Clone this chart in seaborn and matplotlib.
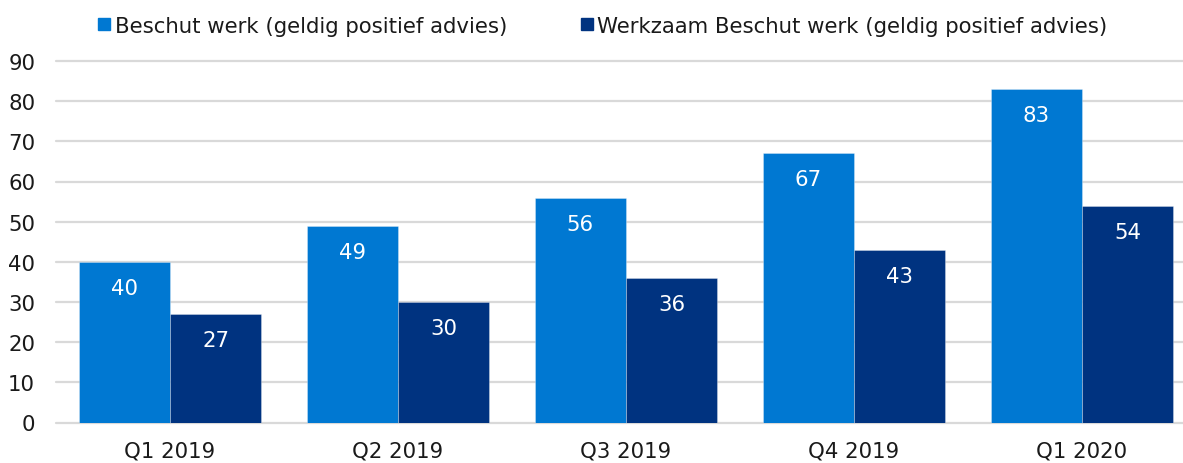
import matplotlib
matplotlib.use("Agg")
import matplotlib.pyplot as plt
import seaborn as sns
import pandas as pd
from matplotlib.lines import Line2D

quarters = ["Q1 2019", "Q2 2019", "Q3 2019", "Q4 2019", "Q1 2020"]
series_names = ["Beschut werk (geldig positief advies)",
                "Werkzaam Beschut werk (geldig positief advies)"]
beschut = [40, 49, 56, 67, 83]
werkzaam = [27, 30, 36, 43, 54]
y_ticks = [0, 10, 20, 30, 40, 50, 60, 70, 80, 90]

colors = ["#0078D2", "#003380"]
text_color = "#1a1a1a"
fs = 15.3

df = pd.DataFrame({
    "kwartaal": quarters * 2,
    "reeks": [series_names[0]] * len(quarters) + [series_names[1]] * len(quarters),
    "aantal": beschut + werkzaam,
})

sns.set_theme(style="white")
plt.rcParams["font.family"] = ["DejaVu Sans"]

fig = plt.figure(figsize=(11.83, 4.64), dpi=100)
W, H = 1183, 464
left_px, right_px = 56, 1196
ax = fig.add_axes([left_px / W, (H - 423.5) / H, (right_px - left_px) / W, (423.5 - 62) / H])

sns.barplot(data=df, x="kwartaal", y="aantal", hue="reeks", hue_order=series_names,
            palette=colors, width=0.8, gap=0, saturation=1, ax=ax,
            edgecolor=(1, 1, 1, 0.35), linewidth=0.6, legend=False, errorbar=None)

for cont in ax.containers:
    ax.bar_label(cont, labels=[f"{v:.0f}" for v in cont.datavalues],
                 padding=-26, color="white", fontsize=fs)

ax.set_xlim(-0.5, 4.5)
ax.set_ylim(0, 90)
ax.set_yticks(y_ticks)
ax.yaxis.grid(True, color="#D9D9D9", linewidth=1.6)
for gl in ax.get_ygridlines():
    gl.set_clip_on(False)
ax.set_axisbelow(True)
for s in ax.spines.values():
    s.set_visible(False)
ax.set_xlabel("")
ax.set_ylabel("")
ax.tick_params(axis="y", length=0, pad=15, labelsize=fs, labelcolor=text_color)
ax.tick_params(axis="x", length=0, pad=13, labelsize=fs, labelcolor=text_color)

handles = [Line2D([0], [0], marker="s", linestyle="none", markersize=8,
                  markerfacecolor=c, markeredgecolor=c) for c in colors]
fig.legend(handles, series_names, loc="center", bbox_to_anchor=(0.509, 0.942),
           ncol=2, frameon=False, fontsize=fs, handletextpad=0.15,
           columnspacing=3.4, handlelength=0.7, labelcolor=text_color)

fig.savefig("out.png", dpi=100)
